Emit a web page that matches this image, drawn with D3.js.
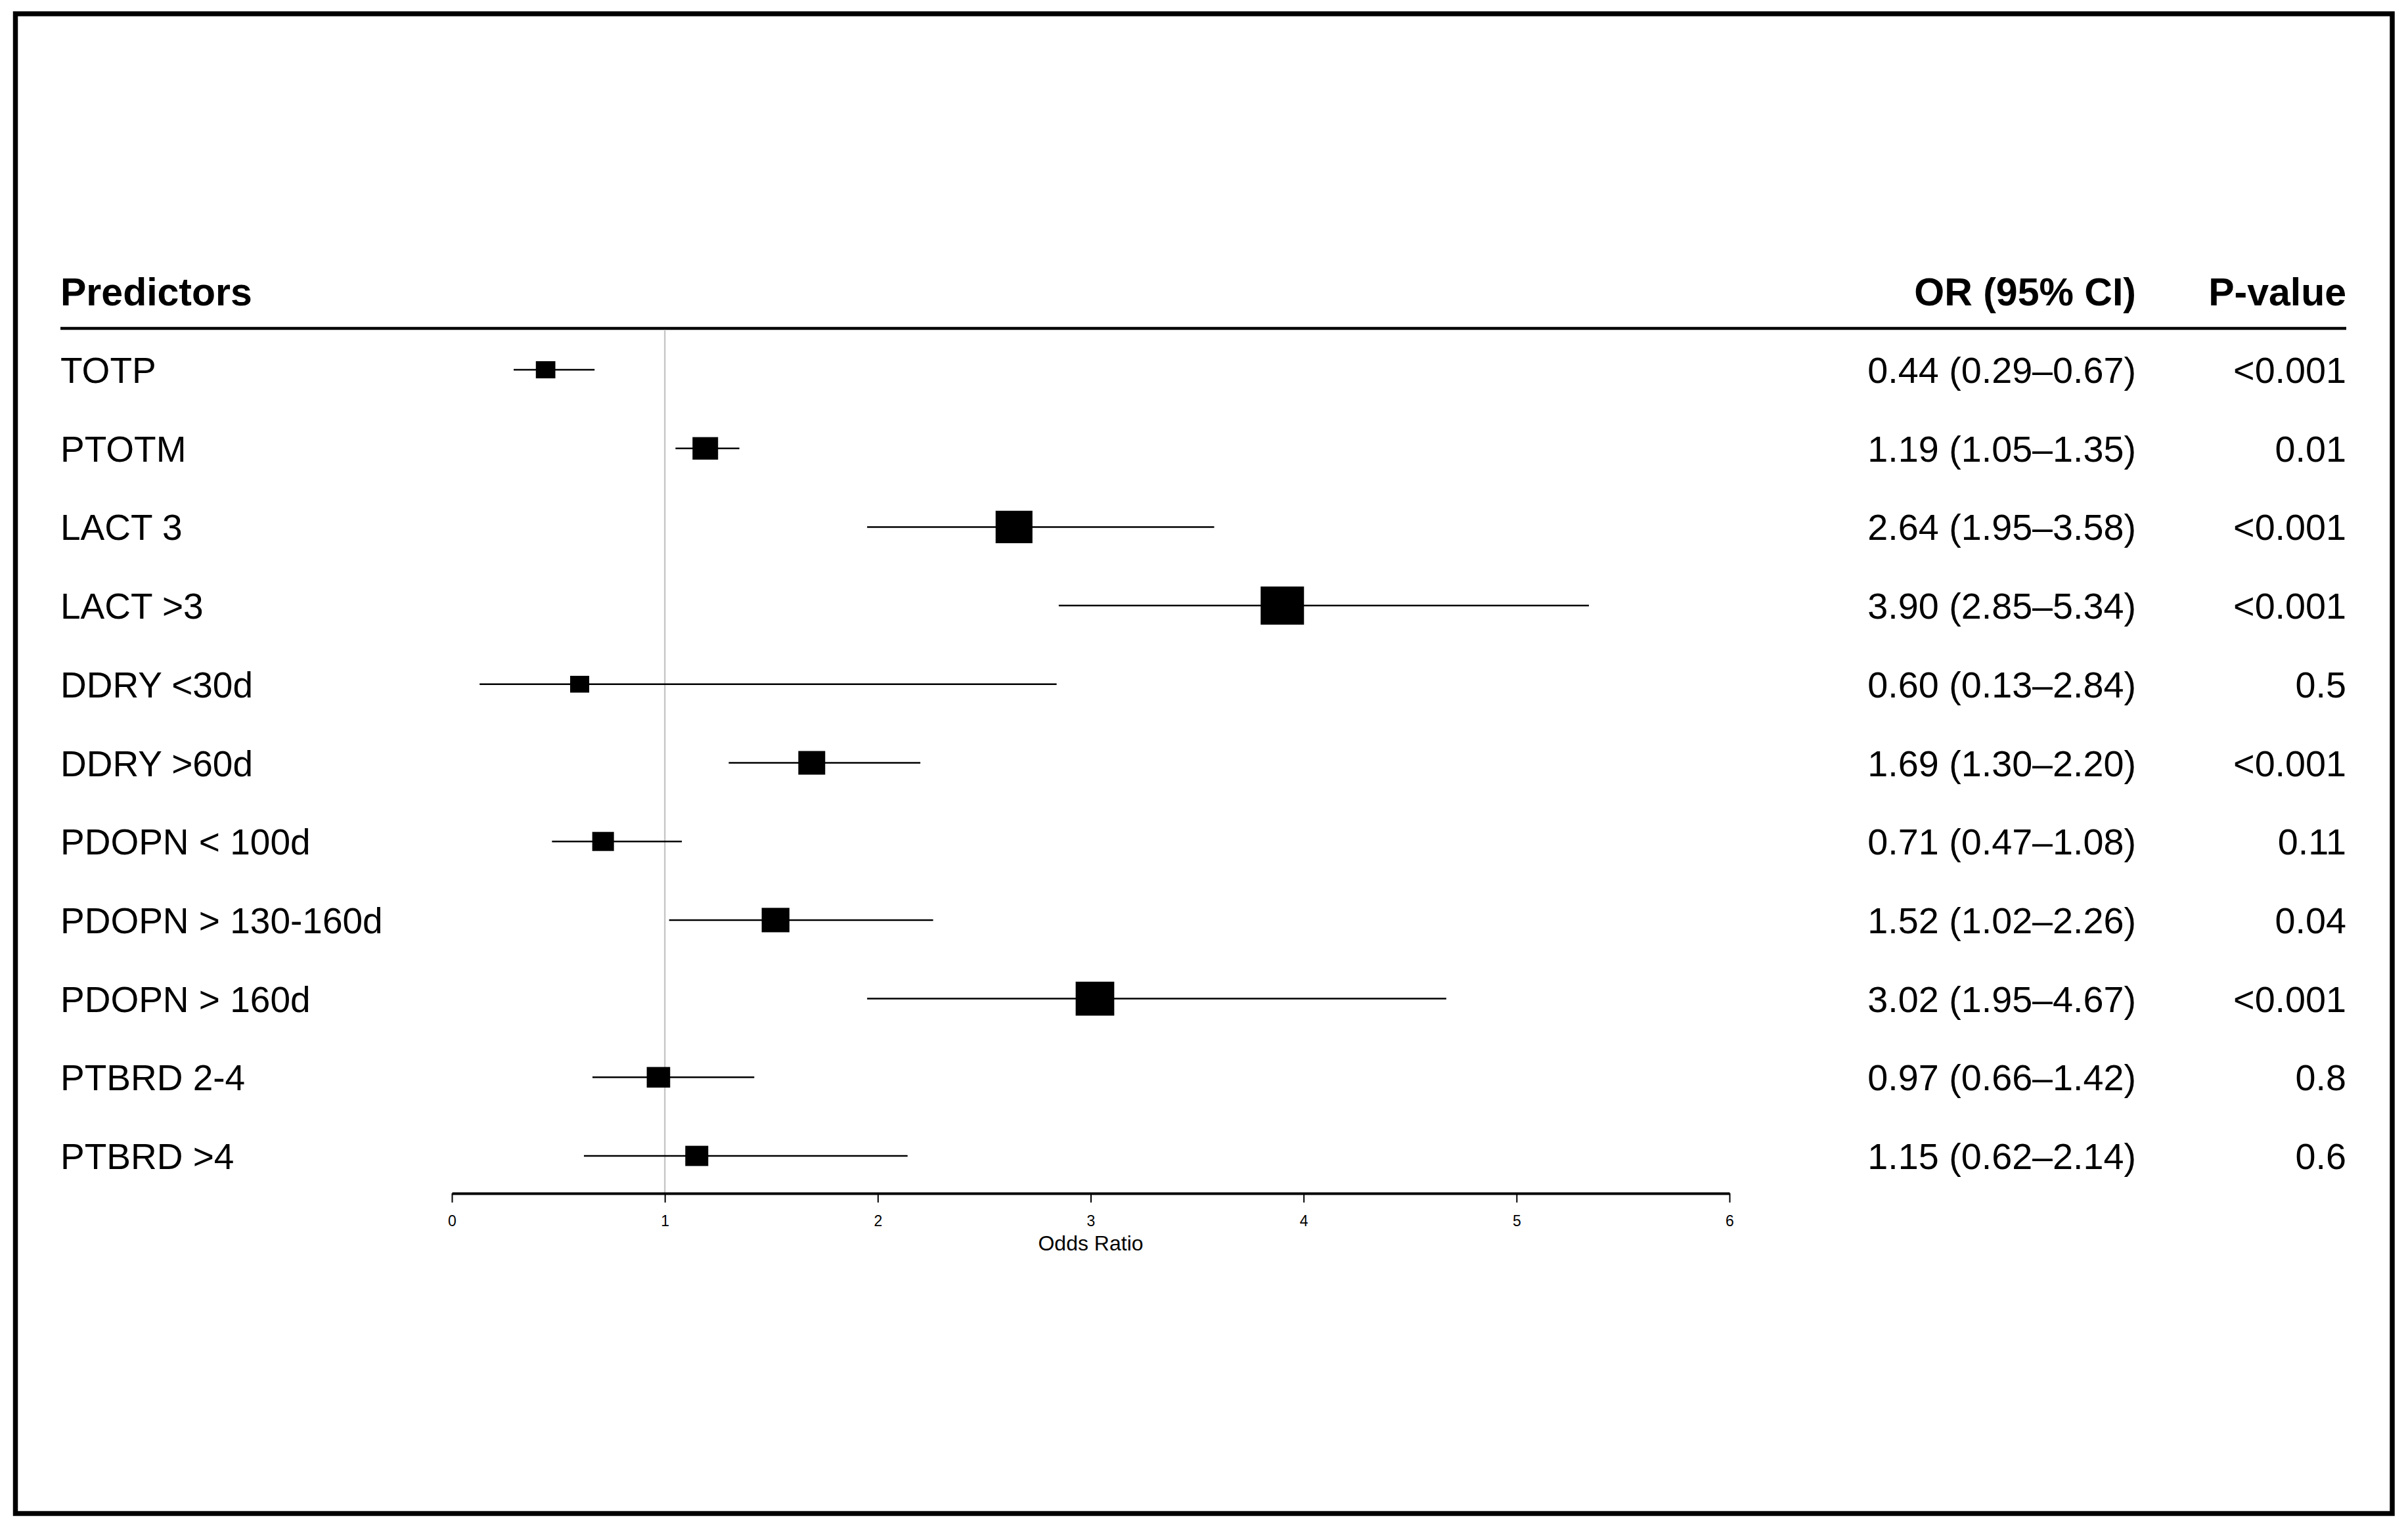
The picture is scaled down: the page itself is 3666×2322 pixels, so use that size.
<!DOCTYPE html>
<html>
<head>
<meta charset="utf-8">
<script src="https://cdn.jsdelivr.net/npm/d3@7"></script>
<style>
  html, body { margin: 0; padding: 0; background: #ffffff; }
  svg { display: block; }
  text { font-family: "Liberation Sans", Arial, Helvetica, sans-serif; fill: #000; }
</style>
</head>
<body>
<svg id="chart" width="3666" height="2322"></svg>
<script>
// ---- data ----
const predictors = ["TOTP", "PTOTM", "LACT 3", "LACT >3", "DDRY <30d", "DDRY >60d",
  "PDOPN < 100d", "PDOPN > 130-160d", "PDOPN > 160d", "PTBRD 2-4", "PTBRD >4"];
const oddsRatios = [0.44, 1.19, 2.64, 3.90, 0.60, 1.69, 0.71, 1.52, 3.02, 0.97, 1.15];
const ciLower    = [0.29, 1.05, 1.95, 2.85, 0.13, 1.30, 0.47, 1.02, 1.95, 0.66, 0.62];
const ciUpper    = [0.67, 1.35, 3.58, 5.34, 2.84, 2.20, 1.08, 2.26, 4.67, 1.42, 2.14];
const pValues    = ["<0.001", "0.01", "<0.001", "<0.001", "0.5", "<0.001", "0.11", "0.04", "<0.001", "0.8", "0.6"];
const boxWeights = [0.45, 0.59, 0.85, 1.00, 0.44, 0.62, 0.50, 0.64, 0.89, 0.54, 0.53];
const xTicks     = [0, 1, 2, 3, 4, 5, 6];
const headers    = { label: "Predictors", ci: "OR (95% CI)", p: "P-value" };
const xAxisTitle = "Odds Ratio";

const fmt = d3.format(".2f");
const rows = predictors.map((name, i) => ({
  name, or: oddsRatios[i], lo: ciLower[i], hi: ciUpper[i], p: pValues[i], w: boxWeights[i],
  ciText: `${fmt(oddsRatios[i])} (${fmt(ciLower[i])}\u2013${fmt(ciUpper[i])})`
}));

// ---- layout ----
const svg = d3.select("#chart");

const x = d3.scaleLinear().domain([0, 6]).range([688, 2633]);
const y = d3.scalePoint().domain(predictors).range([563, 1760]);
const boxSize = d3.scaleLinear().domain([0, 1]).range([0, 66]);

const labelX = 92, ciRight = 3252, pRight = 3572;
const headerBaseline = 465, headerLineY = 500, axisY = 1817;
const fs = 55.7, lfs = 55, hfs = 59;

// outer frame
svg.append("rect")
  .attr("x", 23.5).attr("y", 21)
  .attr("width", 3618.5).attr("height", 2283.5)
  .attr("fill", "none").attr("stroke", "#000").attr("stroke-width", 7.5);

// headers
const hdr = svg.append("g").attr("font-weight", "bold").attr("font-size", hfs);
hdr.append("text").attr("x", labelX).attr("y", headerBaseline).text(headers.label);
hdr.append("text").attr("x", ciRight).attr("y", headerBaseline).attr("text-anchor", "end").text(headers.ci);
hdr.append("text").attr("x", pRight).attr("y", headerBaseline).attr("text-anchor", "end").text(headers.p);

svg.append("line")
  .attr("x1", labelX).attr("x2", pRight)
  .attr("y1", headerLineY).attr("y2", headerLineY)
  .attr("stroke", "#000").attr("stroke-width", 4.5);

// reference line at OR = 1
svg.append("line")
  .attr("x1", x(1)).attr("x2", x(1))
  .attr("y1", headerLineY + 2).attr("y2", axisY)
  .attr("stroke", "#c8c8c8").attr("stroke-width", 2.5);

// row labels and text columns
const rowG = svg.append("g").attr("font-size", fs);
rowG.selectAll("text.lab").data(rows).join("text")
  .attr("class", "lab").attr("font-size", lfs)
  .attr("x", labelX).attr("y", d => y(d.name) + fs * 0.36)
  .text(d => d.name);
rowG.selectAll("text.ci").data(rows).join("text")
  .attr("class", "ci").attr("text-anchor", "end")
  .attr("x", ciRight).attr("y", d => y(d.name) + fs * 0.36)
  .text(d => d.ciText);
rowG.selectAll("text.pv").data(rows).join("text")
  .attr("class", "pv").attr("text-anchor", "end")
  .attr("x", pRight).attr("y", d => y(d.name) + fs * 0.36)
  .text(d => d.p);

// CI lines
svg.append("g").selectAll("line").data(rows).join("line")
  .attr("x1", d => x(d.lo)).attr("x2", d => x(d.hi))
  .attr("y1", d => y(d.name)).attr("y2", d => y(d.name))
  .attr("stroke", "#000").attr("stroke-width", 2.5);

// boxes
svg.append("g").selectAll("rect").data(rows).join("rect")
  .attr("x", d => x(d.or) - boxSize(d.w) / 2)
  .attr("y", d => y(d.name) - boxSize(d.w) * 0.88 / 2)
  .attr("width", d => boxSize(d.w))
  .attr("height", d => boxSize(d.w) * 0.88)
  .attr("fill", "#000");

// x axis
const axis = d3.axisBottom(x).tickValues(xTicks).tickFormat(d3.format("d"))
  .tickSize(14).tickSizeOuter(0).tickPadding(20);
const ax = svg.append("g").attr("transform", `translate(0,${axisY})`).call(axis);
ax.select(".domain").attr("stroke", "#000").attr("stroke-width", 4);
ax.selectAll(".tick line").attr("stroke", "#000").attr("stroke-width", 2);
ax.selectAll(".tick text")
  .attr("font-size", 23)
  .attr("font-family", "'Liberation Sans', Arial, sans-serif")
  .attr("fill", "#000");

svg.append("text")
  .attr("x", (x(0) + x(6)) / 2).attr("y", 1904)
  .attr("text-anchor", "middle").attr("font-size", 32)
  .text(xAxisTitle);
</script>
</body>
</html>
